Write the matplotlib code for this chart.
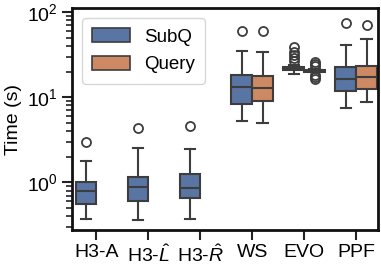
import matplotlib
matplotlib.use("Agg")
import matplotlib.pyplot as plt
from matplotlib.patches import Patch
import matplotlib.colors as mcolors
import colorsys

plt.rcParams['font.family'] = ['Liberation Sans', 'DejaVu Sans']
plt.rcParams['mathtext.fontset'] = 'custom'
plt.rcParams['mathtext.rm'] = 'Liberation Sans'
plt.rcParams['mathtext.it'] = 'Liberation Sans:italic'
plt.rcParams['mathtext.bf'] = 'Liberation Sans:bold'

categories = ["H3-A", r"H3-$\hat{L}$", r"H3-$\hat{R}$", "WS", "EVO", "PPF"]
hues = ["SubQ", "Query"]
base_colors = ["#4C72B0", "#DD8452"]


def desaturate(c, prop):
    r, g, b = mcolors.to_rgb(c)
    h, l, s = colorsys.rgb_to_hls(r, g, b)
    return colorsys.hls_to_rgb(h, l, s * prop)


colors = [desaturate(c, 0.75) for c in base_colors]

# stats per hue: (whislo, q1, med, q3, whishi) ; None = no data
subq_stats = [
    (0.37, 0.554, 0.79, 1.0, 1.79),
    (0.36, 0.61, 0.88, 1.17, 2.53),
    (0.37, 0.65, 0.855, 1.25, 2.46),
    (5.25, 8.3, 13.2, 18.4, 35.2),
    (18.8, 20.8, 21.6, 22.8, 23.6),
    (7.4, 11.8, 16.5, 22.4, 41.5),
]
subq_fliers = [[3.02], [4.41], [4.62], [59.4], [26.5, 28.5, 31.0, 34.0, 38.5], [74.6]]
query_stats = [
    None, None, None,
    (4.97, 9.1, 13.0, 17.9, 34.3),
    (19.6, 20.0, 20.4, 20.8, 21.2),
    (8.7, 12.6, 17.1, 23.3, 48.8),
]
query_fliers = [[], [], [], [60.6], [16.5, 17.4, 18.4, 23.4, 24.7, 26.2], [70.7]]

fig = plt.figure(figsize=(3.81, 2.73), dpi=100)
ax = fig.add_axes([0.189, 0.159, 0.803, 0.810])

edge = "#3d3d3d"
for h, (stats_list, fliers_list) in enumerate([(subq_stats, subq_fliers), (query_stats, query_fliers)]):
    offset = -0.2 if h == 0 else 0.2
    bstats = []
    pos = []
    for i, st in enumerate(stats_list):
        if st is None:
            continue
        lo, q1, med, q3, hi = st
        bstats.append(dict(whislo=lo, q1=q1, med=med, q3=q3, whishi=hi, fliers=fliers_list[i]))
        pos.append(i + offset)
    ax.bxp(bstats, positions=pos, widths=0.4, capwidths=0.2, patch_artist=True,
           boxprops=dict(facecolor=colors[h], edgecolor=edge, linewidth=1.5),
           medianprops=dict(color=edge, linewidth=1.5),
           whiskerprops=dict(color=edge, linewidth=1.5),
           capprops=dict(color=edge, linewidth=1.5),
           flierprops=dict(marker='o', markersize=6.5, markerfacecolor='none',
                           markeredgecolor=edge, markeredgewidth=1.3),
           manage_ticks=False)

ax.set_yscale('log')
ax.set_ylim(0.28, 110)
ax.set_xlim(-0.47, 5.42)
ax.set_xticks(range(len(categories)))
ax.set_xticklabels(categories)
ax.set_ylabel("Time (s)", fontsize=14)
ax.yaxis.set_label_coords(-0.165, 0.5)
ax.tick_params(axis='both', which='major', labelsize=14, length=7, width=1.5, color='#222222')
ax.tick_params(axis='y', which='minor', length=4, width=1.2, color='#222222')
for s in ax.spines.values():
    s.set_linewidth(2)
    s.set_color('#111111')

handles = [Patch(facecolor=colors[i], edgecolor=edge, linewidth=1.2, label=hues[i]) for i in range(2)]
ax.legend(handles=handles, loc='upper left', fontsize=13.5, frameon=True,
          borderpad=0.55, handlelength=2.0, handleheight=0.75, labelspacing=0.55, handletextpad=0.75,
          borderaxespad=0, bbox_to_anchor=(0.033, 0.957))

fig.savefig("out.png", dpi=100)
